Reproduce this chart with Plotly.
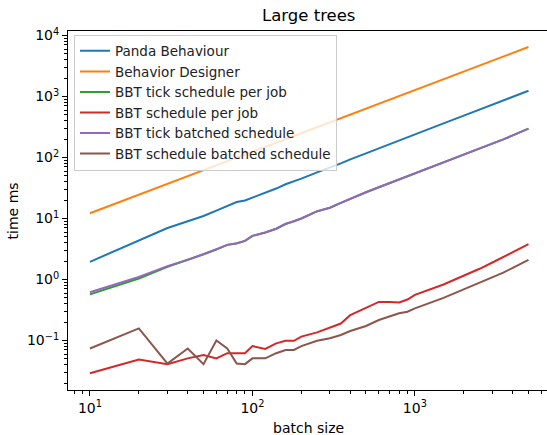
import plotly.graph_objects as go

batch_sizes = [10, 20, 30, 40, 50, 60, 70, 80, 90, 100, 120, 140, 160, 180, 200,
               250, 300, 350, 400, 450, 500, 600, 700, 800, 900, 1000,
               1500, 2000, 2500, 3000, 3500, 4000, 4500, 5000]

panda_behaviour = [1.95, 4.3, 7.0, 9.0, 11.0, 13.5, 16.0, 18.6, 19.8, 22.0, 26.7, 31.0, 36.5, 40.5, 45.0,
                   57.0, 68.0, 80.0, 93.0, 104.0, 117.0, 141.0, 166.0, 189.0, 214.0, 240.0,
                   362.0, 487.0, 613.0, 739.0, 866.0, 993.0, 1120.0, 1245.0]

behavior_designer = [12.2, 24.5, 37.0, 49.5, 62.0, 74.5, 87.0, 100.0, 112.0, 125.0, 150.0, 175.0, 201.0, 226.0, 252.0,
                     316.0, 380.0, 443.0, 507.0, 571.0, 635.0, 763.0, 892.0, 1020.0, 1150.0, 1280.0,
                     1920.0, 2570.0, 3220.0, 3870.0, 4520.0, 5170.0, 5820.0, 6480.0]

bbt_tick_schedule_per_job = [0.57, 1.04, 1.62, 2.08, 2.6, 3.1, 3.7, 3.9, 4.3, 5.2, 5.9, 6.8, 8.1, 9.0, 10.0,
                             13.1, 15.0, 18.0, 21.0, 24.0, 27.0, 32.5, 38.0, 44.0, 50.0, 56.0,
                             83.0, 112.0, 138.0, 168.0, 198.0, 230.0, 262.0, 297.0]

bbt_schedule_per_job = [0.029, 0.049, 0.041, 0.051, 0.058, 0.051, 0.062, 0.062, 0.062, 0.081, 0.073, 0.09, 0.099, 0.099, 0.116,
                        0.136, 0.165, 0.19, 0.26, 0.30, 0.34, 0.43, 0.43, 0.42, 0.47, 0.56,
                        0.83, 1.15, 1.5, 1.9, 2.35, 2.8, 3.3, 3.8]

bbt_tick_batched_schedule = [0.62, 1.1, 1.66, 2.1, 2.6, 3.1, 3.7, 3.92, 4.3, 5.2, 5.9, 6.8, 8.2, 9.0, 10.0,
                             13.2, 15.0, 18.0, 21.0, 24.0, 27.0, 32.5, 38.0, 44.0, 50.0, 56.0,
                             83.0, 112.0, 138.0, 168.0, 198.0, 230.0, 262.0, 297.0]

bbt_schedule_batched_schedule = [0.074, 0.158, 0.042, 0.074, 0.041, 0.10, 0.074, 0.042, 0.041, 0.051, 0.051, 0.062, 0.070, 0.070, 0.081,
                                 0.099, 0.109, 0.123, 0.143, 0.158, 0.173, 0.217, 0.246, 0.279, 0.297, 0.337,
                                 0.5, 0.69, 0.88, 1.08, 1.3, 1.55, 1.82, 2.1]

x_tick_vals = [10, 100, 1000]
x_tick_text = ["10<sup>1</sup>", "10<sup>2</sup>", "10<sup>3</sup>"]
y_tick_vals = [0.1, 1, 10, 100, 1000, 10000]
y_tick_text = ["10<sup>\u22121</sup>", "10<sup>0</sup>", "10<sup>1</sup>", "10<sup>2</sup>",
               "10<sup>3</sup>", "10<sup>4</sup>"]

series = [
    ("Panda Behaviour", panda_behaviour, "#1f77b4"),
    ("Behavior Designer", behavior_designer, "#ff7f0e"),
    ("BBT tick schedule per job", bbt_tick_schedule_per_job, "#2ca02c"),
    ("BBT schedule per job", bbt_schedule_per_job, "#d62728"),
    ("BBT tick batched schedule", bbt_tick_batched_schedule, "#9467bd"),
    ("BBT schedule batched schedule", bbt_schedule_batched_schedule, "#8c564b"),
]

fig = go.Figure()
for name, vals, color in series:
    fig.add_trace(go.Scatter(x=batch_sizes, y=vals, mode="lines", name=name,
                             line=dict(color=color, width=2)))

font_family = "DejaVu Sans"
fig.update_layout(
    width=547, height=435,
    margin=dict(l=68, r=0, t=31, b=45),
    paper_bgcolor="white", plot_bgcolor="white",
    font=dict(family=font_family, size=14, color="black"),
    showlegend=True,
    legend=dict(x=0.0125, y=0.99, xanchor="left", yanchor="top",
                bgcolor="rgba(255,255,255,0.8)", bordercolor="#cccccc", borderwidth=1,
                font=dict(family=font_family, size=13.5, color="#222222"),
                itemwidth=30, tracegroupgap=0),
    annotations=[
        dict(text="Large trees", xref="paper", yref="paper", x=0.503, y=1.042,
             xanchor="center", yanchor="middle", showarrow=False,
             font=dict(family=font_family, size=16.5, color="black")),
        dict(text="batch size", xref="paper", yref="paper", x=0.503, y=-0.106,
             xanchor="center", yanchor="middle", showarrow=False,
             font=dict(family=font_family, size=14, color="black")),
        dict(text="time ms", xref="paper", yref="paper", x=-0.115, y=0.5,
             xanchor="center", yanchor="middle", showarrow=False, textangle=-90,
             font=dict(family=font_family, size=14, color="black")),
    ],
)

fig.update_xaxes(type="log", range=[0.865, 3.813], tickvals=x_tick_vals, ticktext=x_tick_text,
                 showgrid=False, zeroline=False, showline=True, linecolor="black", linewidth=1,
                 mirror=True, ticks="outside", ticklen=5, tickcolor="black", tickwidth=1,
                 tickfont=dict(family=font_family, size=14, color="black"),
                 minor=dict(ticks="outside", ticklen=3, tickcolor="black", tickwidth=0.8,
                            dtick="D1", showgrid=False))
fig.update_yaxes(type="log", range=[-1.811, 4.074], tickvals=y_tick_vals, ticktext=y_tick_text,
                 showgrid=False, zeroline=False, showline=True, linecolor="black", linewidth=1,
                 mirror=False, ticks="outside", ticklen=5, tickcolor="black", tickwidth=1,
                 tickfont=dict(family=font_family, size=14, color="black"),
                 minor=dict(ticks="outside", ticklen=3, tickcolor="black", tickwidth=0.8,
                            dtick="D1", showgrid=False))

fig.write_html("out.html")
